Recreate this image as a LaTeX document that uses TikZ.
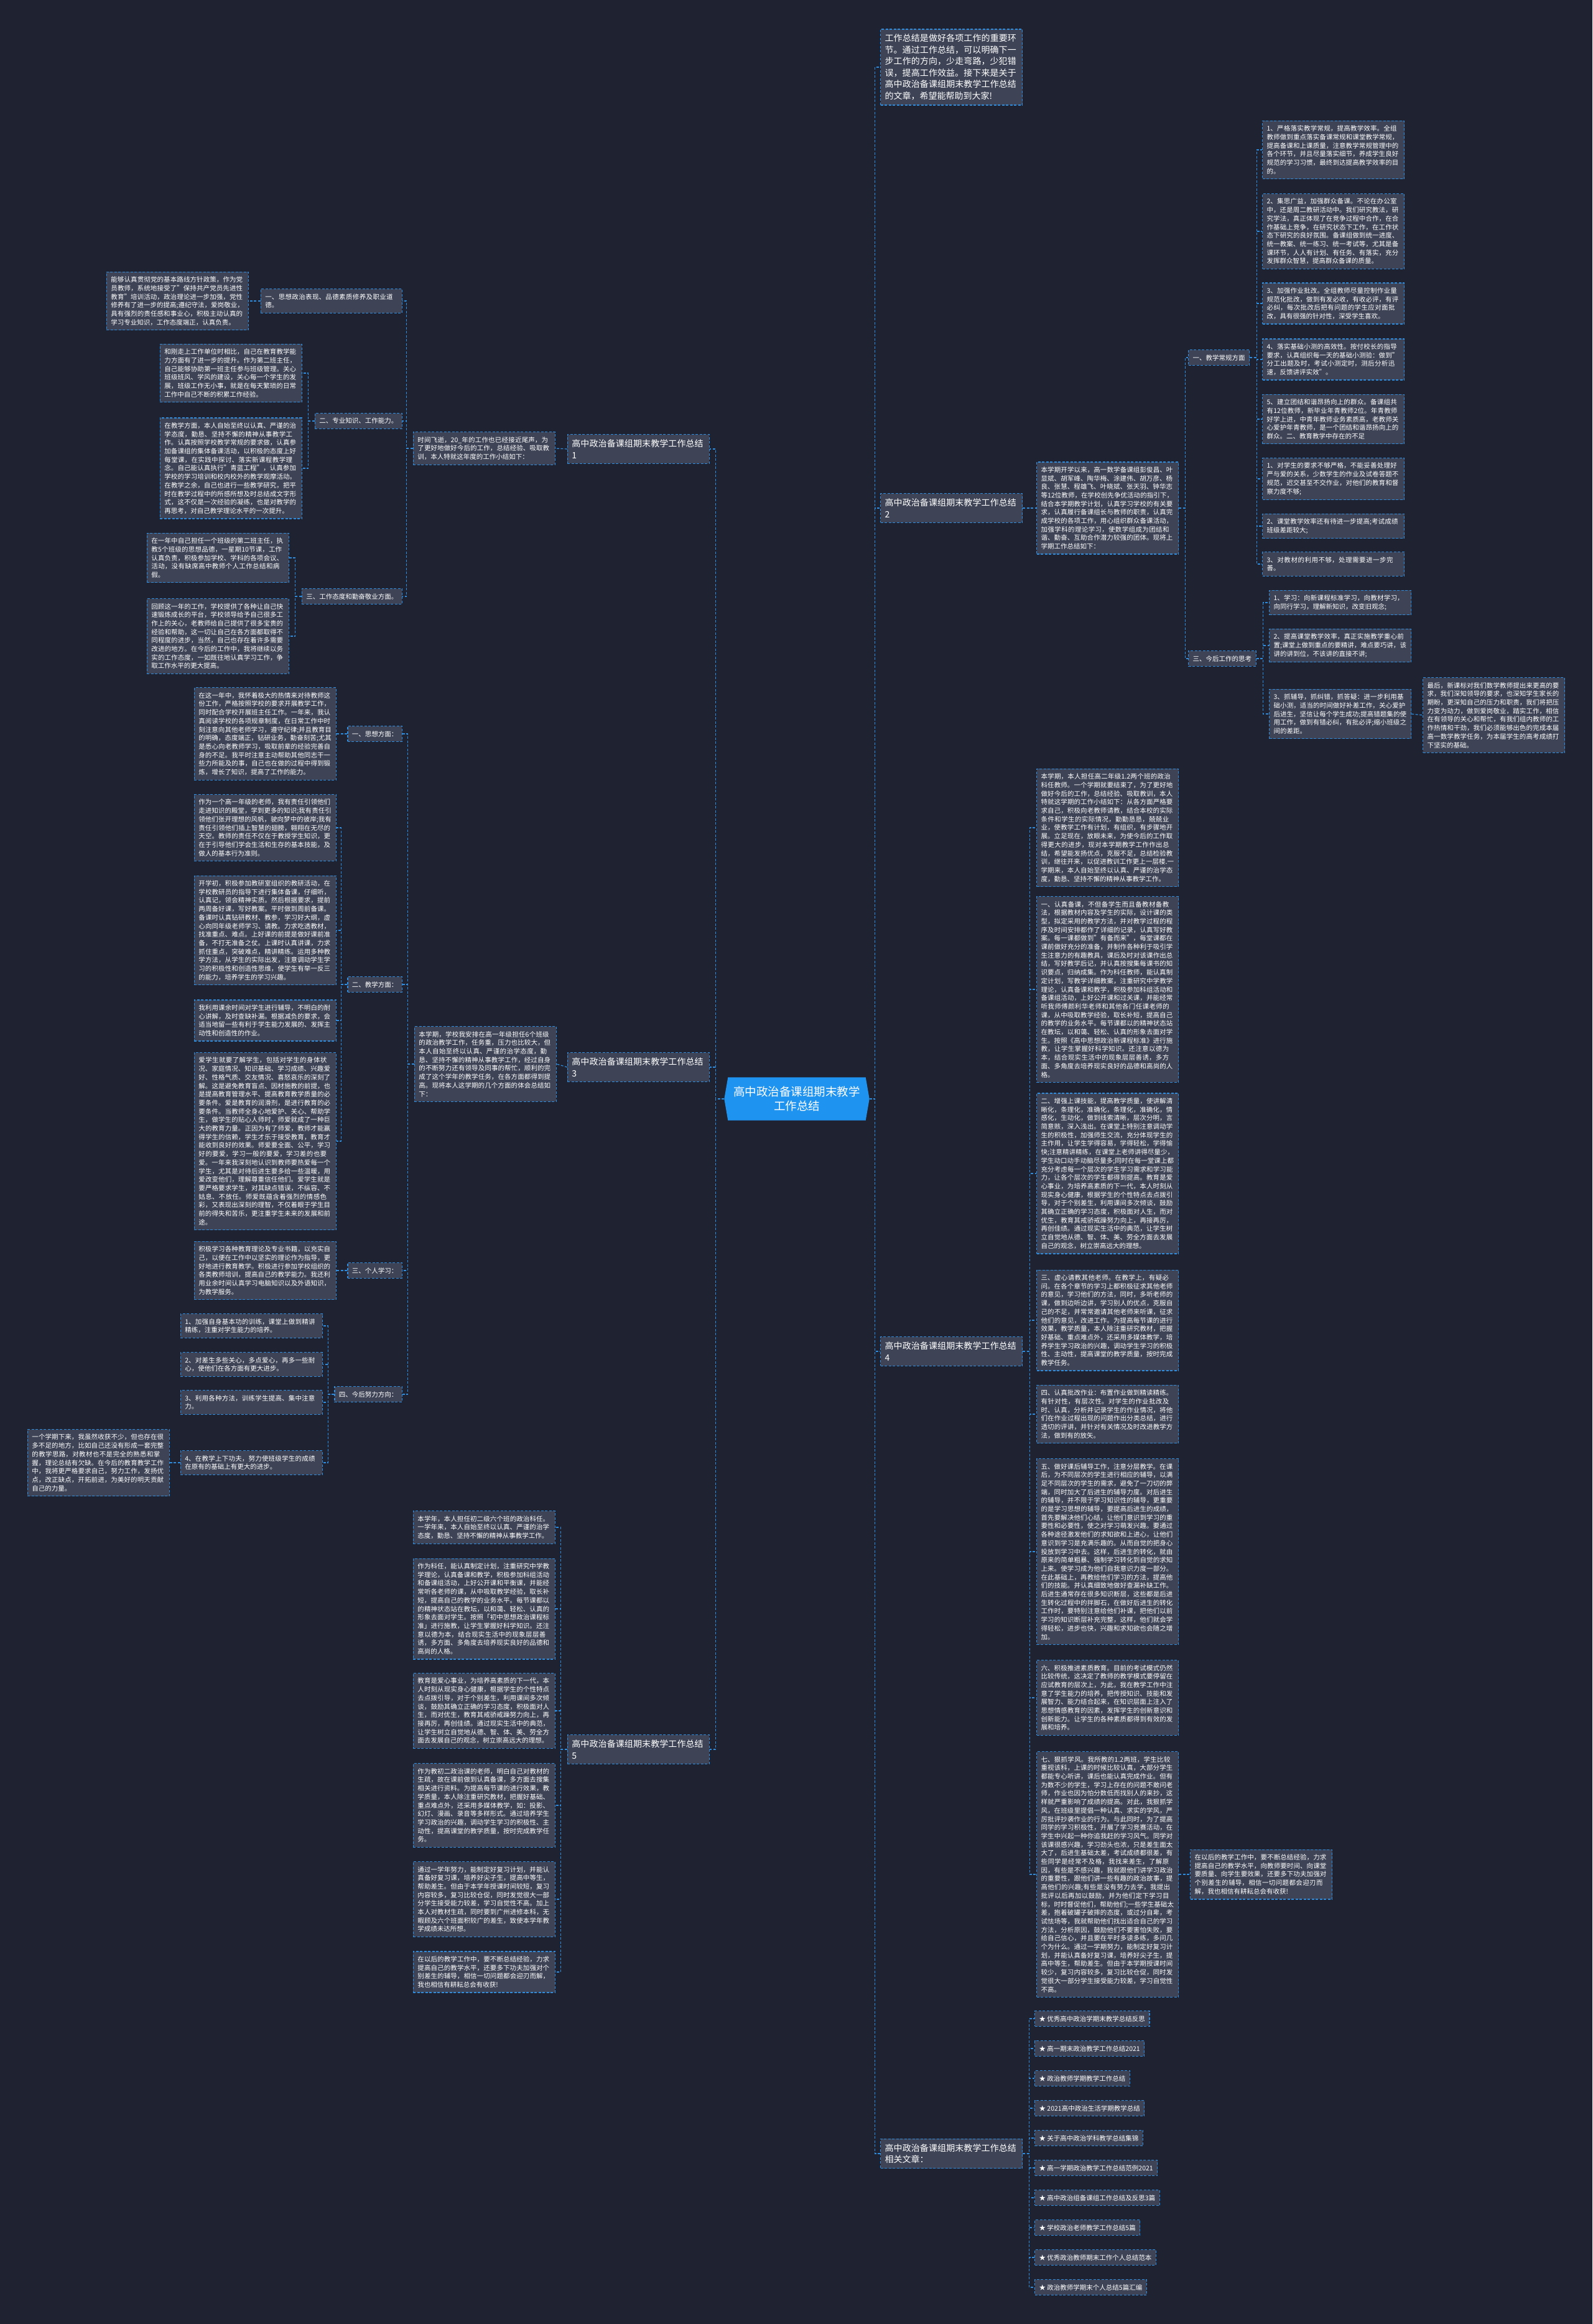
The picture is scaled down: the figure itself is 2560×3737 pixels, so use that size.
\documentclass[tikz,border=0pt]{standalone}
\usepackage{fontspec}
\setmainfont{Noto Sans CJK SC}
\usepackage{tikz}
\usetikzlibrary{backgrounds}
\XeTeXlinebreaklocale "zh"
\XeTeXlinebreakskip = 0pt plus 1pt
\definecolor{bgcol}{HTML}{1F2230}
\definecolor{boxgray}{HTML}{3E4456}
\definecolor{edgeblue}{HTML}{2F8BDB}
\definecolor{rootblue}{HTML}{1F93F0}

\begin{document}
\begin{tikzpicture}[x=1pt, y=-1pt,
  every node/.style={text=white, font=\fontsize{10.5}{13.7}\selectfont},
  card/.style={draw=edgeblue, dash pattern=on 4pt off 2.5pt, line width=1.2pt, fill=boxgray, align=left, inner xsep=7pt, inner ysep=7.5pt},
  leaf/.style={card, text width=214pt},
  lvl/.style={card, text width=214pt, inner ysep=8pt, font=\fontsize{14}{18.5}\selectfont},
  root/.style={align=center, minimum width=233pt, minimum height=69pt, inner sep=0pt, font=\fontsize{18.5}{23}\selectfont},
  conn/.style={draw=edgeblue, dash pattern=on 4pt off 2.5pt, line width=1.2pt}]
\node[root] (root) at (1281,1767) {高中政治备课组期末教学\\工作总结};

% right side
\node[lvl, anchor=west] (intro) at (1415,108) {工作总结是做好各项工作的重要环节。通过工作总结，可以明确下一步工作的方向，少走弯路，少犯错误，提高工作效益。接下来是关于高中政治备课组期末教学工作总结的文章，希望能帮助到大家!};
\node[lvl, anchor=west] (sumtwo) at (1415,817) {高中政治备课组期末教学工作总结2};
\node[lvl, anchor=west] (sumfour) at (1415,2173) {高中政治备课组期末教学工作总结4};
\node[lvl, anchor=west] (related) at (1415,3463) {高中政治备课组期末教学工作总结相关文章：};

\node[leaf, anchor=west] (twotext) at (1666,817) {本学期开学以来，高一数学备课组彭俊昌、叶显斌、胡军峰、陶华梅、涂建伟、胡万彦、杨良、张慧、程雄飞、叶晓斌、张天羽、钟华志等12位教师，在学校创先争优活动的指引下，结合本学期教学计划，认真学习学校的有关要求，认真履行备课组长与教师的职责，认真完成学校的各项工作，用心组织群众备课活动，加强学科的理论学习，使数学组成为团结和谐、勤奋、互助合作潜力较强的团体。现将上学期工作总结如下：};
\node[card, anchor=west] (routine) at (1910,575) {一、教学常规方面};
\node[leaf, anchor=west] (rta) at (2029,241) {1、严格落实教学常规，提高教学效率。全组教师做到重点落实备课常规和课堂教学常规，提高备课和上课质量，注意教学常规管理中的各个环节，并且尽量落实细节，养成学生良好规范的学习习惯，最终到达提高教学效率的目的。};
\node[leaf, anchor=west] (rtb) at (2029,372) {2、集思广益，加强群众备课。不论在办公室中，还是周二教研活动中。我们研究教法，研究学法，真正体现了在竞争过程中合作，在合作基础上竞争，在研究状态下工作，在工作状态下研究的良好氛围。备课组做到统一进度、统一教案、统一练习、统一考试等，尤其是备课环节，人人有计划、有任务、有落实，充分发挥群众智慧，提高群众备课的质量。};
\node[leaf, anchor=west] (rtc) at (2029,488) {3、加强作业批改。全组教师尽量控制作业量规范化批改，做到有发必收，有收必评，有评必纠，每次批改后把有问题的学生应对面批改，具有很强的针对性，深受学生喜欢。};
\node[leaf, anchor=west] (rtd) at (2029,578) {4、落实基础小测的高效性。按付校长的指导要求，认真组织每一天的基础小测验：做到"分工出题及时，考试小测定时，测后分析迅速，反馈讲评实效"。};
\node[leaf, anchor=west] (rte) at (2029,674) {5、建立团结和谐昂扬向上的群众。备课组共有12位教师，新毕业年青教师2位。年青教师好学上进，中青年教师业务素质高，老教师关心爱护年青教师，是一个团结和谐昂扬向上的群众。二、教育教学中存在的不足};
\node[leaf, anchor=west] (rtf) at (2029,770) {1、对学生的要求不够严格，不能妥善处理好严与爱的关系，少数学生的作业及试卷答题不规范，迟交甚至不交作业，对他们的教育和督察力度不够;};
\node[leaf, anchor=west] (rtg) at (2029,846) {2、课堂教学效率还有待进一步提高;考试成绩班级差距较大;};
\node[leaf, anchor=west] (rth) at (2029,907) {3、对教材的利用不够，处理需要进一步完善。};
\node[card, anchor=west] (future) at (1910,1059) {三、今后工作的思考};
\node[leaf, anchor=west] (fua) at (2040,969) {1、学习：向新课程标准学习，向教材学习，向同行学习，理解新知识，改变旧观念;};
\node[leaf, anchor=west] (fub) at (2040,1038) {2、提高课堂教学效率，真正实施教学重心前置;课堂上做到重点的要精讲，难点要巧讲，该讲的讲到位，不该讲的直接不讲;};
\node[leaf, anchor=west] (fuc) at (2040,1148) {3、抓辅导，抓纠错，抓答疑：进一步利用基础小测，适当的时间做好补差工作，关心爱护后进生，坚信让每个学生成功;提高错题集的使用工作，做到有错必纠，有批必评;缩小班级之间的差距。};
\node[leaf, anchor=west] (fud) at (2287,1150) {最后，新课标对我们数学教师提出来更高的要求，我们深知领导的要求，也深知学生家长的期盼，更深知自己的压力和职责，我们将把压力变为动力，做到爱岗敬业，踏实工作，相信在有领导的关心和帮忙，有我们组内教师的工作热情和干劲，我们必须能够出色的完成本届高一数学教学任务，为本届学生的高考成绩打下坚实的基础。};

\node[leaf, anchor=west] (fra) at (1666,1331) {本学期，本人担任高二年级1.2两个班的政治科任教师。一个学期就要结束了，为了更好地做好今后的工作，总结经验、吸取教训，本人特就这学期的工作小结如下：从各方面严格要求自己，积极向老教师请教，结合本校的实际条件和学生的实际情况，勤勤恳恳，兢兢业业，使教学工作有计划，有组织，有步骤地开展。立足现在，放眼未来，为使今后的工作取得更大的进步，现对本学期教学工作作出总结，希望能发扬优点，克服不足，总结检验教训，继往开来，以促进教训工作更上一层楼.一学期来，本人自始至终以认真、严谨的治学态度，勤恳、坚持不懈的精神从事教学工作。};
\node[leaf, anchor=west] (frb) at (1666,1591) {一、认真备课，不但备学生而且备教材备教法，根据教材内容及学生的实际，设计课的类型，拟定采用的教学方法，并对教学过程的程序及时间安排都作了详细的记录，认真写好教案。每一课都做到"有备而来"，每堂课都在课前做好充分的准备，并制作各种利于吸引学生注意力的有趣教具，课后及时对该课作出总结，写好教学后记，并认真按搜集每课书的知识要点，归纳成集。作为科任教师，能认真制定计划，写教学详细教案，注重研究中学教学理论，认真备课和教学，积极参加科组活动和备课组活动，上好公开课和过关课，并能经常听我师傅颜利华老师和其他各门任课老师的课，从中吸取教学经验，取长补短，提高自己的教学的业务水平。每节课都以的精神状态站在教坛，以和蔼、轻松、认真的形象去面对学生。按照《高中思想政治新课程标准》进行施教，让学生掌握好科学知识。还注意以德为本，结合现实生活中的现象层层善诱，多方面、多角度去培养现实良好的品德和高尚的人格。};
\node[leaf, anchor=west] (frc) at (1666,1887) {二、增强上课技能，提高教学质量，使讲解清晰化，条理化，准确化，条理化，准确化，情感化，生动化，做到线索清晰，层次分明，言简意赅，深入浅出。在课堂上特别注意调动学生的积极性，加强师生交流，充分体现学生的主作用，让学生学得容易，学得轻松，学得愉快;注意精讲精练，在课堂上老师讲得尽量少，学生动口动手动脑尽量多;同时在每一堂课上都充分考虑每一个层次的学生学习需求和学习能力，让各个层次的学生都得到提高。教育是爱心事业，为培养高素质的下一代，本人时刻从现实身心健康，根据学生的个性特点去点拨引导，对于个别差生，利用课间多次倾谈，鼓励其确立正确的学习态度，积极面对人生，而对优生，教育其戒骄戒躁努力向上，再接再厉，再创佳绩。通过现实生活中的典范，让学生树立自觉地从德、智、体、美、劳全方面去发展自己的观念，树立崇高远大的理想。};
\node[leaf, anchor=west] (frd) at (1666,2123) {三、虚心请教其他老师。在教学上，有疑必问。在各个章节的学习上都积极征求其他老师的意见，学习他们的方法，同时，多听老师的课，做到边听边讲，学习别人的优点，克服自己的不足，并常常邀请其他老师来听课，征求他们的意见，改进工作。为提高每节课的进行效果，教学质量，本人除注重研究教材，把握好基础、重点难点外，还采用多媒体教学，培养学生学习政治的兴趣，调动学生学习的积极性、主动性，提高课堂的教学质量，按时完成教学任务。};
\node[leaf, anchor=west] (fre) at (1666,2274) {四、认真批改作业：布置作业做到精读精练。有针对性，有层次性。对学生的作业批改及时、认真，分析并记录学生的作业情况，将他们在作业过程出现的问题作出分类总结，进行透切的评讲，并针对有关情况及时改进教学方法，做到有的放矢。};
\node[leaf, anchor=west] (frf) at (1666,2495) {五、做好课后辅导工作，注意分层教学。在课后，为不同层次的学生进行相应的辅导，以满足不同层次的学生的需求，避免了一刀切的弊端，同时加大了后进生的辅导力度。对后进生的辅导，并不限于学习知识性的辅导，更重要的是学习思想的辅导，要提高后进生的成绩，首先要解决他们心结，让他们意识到学习的重要性和必要性，使之对学习萌发兴趣。要通过各种途径激发他们的求知欲和上进心，让他们意识到学习是充满乐趣的。从而自觉的把身心投放到学习中去。这样，后进生的转化，就由原来的简单粗暴、强制学习转化到自觉的求知上来。使学习成为他们自我意识力度一部分。在此基础上，再教给他们学习的方法，提高他们的技能。并认真细致地做好查漏补缺工作。后进生通常存在很多知识断层，这些都是后进生转化过程中的拌脚石，在做好后进生的转化工作时，要特别注意给他们补课，把他们以前学习的知识断层补充完整，这样，他们就会学得轻松，进步也快，兴趣和求知欲也会随之增加。};
\node[leaf, anchor=west] (frg) at (1666,2730) {六、积极推进素质教育。目前的考试模式仍然比较传统，这决定了教师的教学模式要停留在应试教育的层次上，为此，我在教学工作中注意了学生能力的培养，把传授知识、技能和发展智力、能力结合起来，在知识层面上注入了思想情感教育的因素，发挥学生的创新意识和创新能力。让学生的各种素质都得到有效的发展和培养。};
\node[leaf, anchor=west] (frh) at (1666,3014) {七、狠抓学风。我所教的1.2两班，学生比较重视该科，上课的时候比较认真，大部分学生都能专心听讲，课后也能认真完成作业。但有为数不少的学生，学习上存在的问题不敢问老师，作业也因为怕分数低而找别人的来抄，这样就严重影响了成绩的提高。对此，我狠抓学风，在班级里提倡一种认真、求实的学风，严厉批评抄袭作业的行为。与此同时，为了提高同学的学习积极性，开展了学习竞赛活动，在学生中兴起一种你追我赶的学习风气。同学对该课很感兴趣，学习劲头也浓，只是差生面太大了，后进生基础太差，考试成绩都很差，有些同学是经常不及格，我找来差生，了解原因，有些是不感兴趣，我就跟他们讲学习政治的重要性，跟他们讲一些有趣的政治故事，提高他们的兴趣;有些是没有努力去学，我提出批评以后再加以鼓励，并为他们定下学习目标，时时督促他们，帮助他们;一些学生基础太差，抱着破罐子破摔的态度，或过分自卑，考试怯场等，我就帮助他们找出适合自己的学习方法，分析原因，鼓励他们不要害怕失败，要给自己信心，并且要在平时多读多练，多问几个为什么。通过一学期努力，能制定好复习计划，并能认真备好复习课，培养好尖子生，提高中等生，帮助差生。但由于本学期授课时间较少，复习内容较多，复习比较仓促，同时发觉很大一部分学生接受能力较差，学习自觉性不高。};
\node[leaf, anchor=west] (fri) at (1913,3014) {在以后的教学工作中，要不断总结经验，力求提高自己的教学水平，向教师要时间、向课堂要质量、向学生要效果，还要多下功夫加强对个别差生的辅导，相信一切问题都会迎刃而解，我也相信有耕耘总会有收获!};

\node[card, anchor=west] (rel1) at (1663,3246) {★ 优秀高中政治学期末教学总结反思};
\node[card, anchor=west] (rel2) at (1663,3294) {★ 高一期末政治教学工作总结2021};
\node[card, anchor=west] (rel3) at (1663,3342) {★ 政治教师学期教学工作总结};
\node[card, anchor=west] (rel4) at (1663,3390) {★ 2021高中政治生活学期教学总结};
\node[card, anchor=west] (rel5) at (1663,3438) {★ 关于高中政治学科教学总结集锦};
\node[card, anchor=west] (rel6) at (1663,3486) {★ 高一学期政治教学工作总结范例2021};
\node[card, anchor=west] (rel7) at (1663,3534) {★ 高中政治组备课组工作总结及反思3篇};
\node[card, anchor=west] (rel8) at (1663,3582) {★ 学校政治老师教学工作总结5篇};
\node[card, anchor=west] (rel9) at (1663,3630) {★ 优秀政治教师期末工作个人总结范本};
\node[card, anchor=west] (rel10) at (1663,3678) {★ 政治教师学期末个人总结5篇汇编};

% left side
\node[lvl, anchor=east] (sumone) at (1141,722) {高中政治备课组期末教学工作总结1};
\node[lvl, anchor=east] (sumthree) at (1141,1716) {高中政治备课组期末教学工作总结3};
\node[lvl, anchor=east] (sumfive) at (1141,2813) {高中政治备课组期末教学工作总结5};

\node[leaf, anchor=east] (onetext) at (893,721) {时间飞逝，20\_年的工作也已经接近尾声，为了更好地做好今后的工作，总结经验、吸取教训，本人特就这年度的工作小结如下：};
\node[leaf, anchor=east, text width=213pt] (moral) at (647,484) {一、思想政治表现、品德素质修养及职业道德。};
\node[leaf, anchor=east] (mora) at (400,484) {能够认真贯彻党的基本路线方针政策，作为党员教师，系统地接受了"保持共产党员先进性教育"培训活动，政治理论进一步加强，党性修养有了进一步的提高;遵纪守法，爱岗敬业，具有强烈的责任感和事业心，积极主动认真的学习专业知识，工作态度端正，认真负责。};
\node[card, anchor=east] (skill) at (647,677) {二、专业知识、工作能力。};
\node[leaf, anchor=east] (ska) at (486,600) {和刚走上工作单位时相比，自己在教育教学能力方面有了进一步的提升。作为第二班主任，自己能够协助第一班主任参与班级管理。关心班级班风、学风的建设，关心每一个学生的发展，班级工作无小事，就是在每天繁琐的日常工作中自己不断的积累工作经验。};
\node[leaf, anchor=east] (skb) at (486,753) {在教学方面，本人自始至终以认真、严谨的治学态度，勤恳、坚持不懈的精神从事教学工作。认真按照学校教学常规的要求做，认真参加备课组的集体备课活动，以积极的态度上好每堂课，在实践中探讨、落实新课程教学理念。自己能认真执行"青蓝工程"，认真参加学校的学习培训和校内校外的教学观摩活动。在教学之余，自己也进行一些教学研究，把平时在教学过程中的所感所想及时总结成文字形式，这不仅是一次经验的凝练，也是对教学的再思考，对自己教学理论水平的一次提升。};
\node[card, anchor=east] (attitude) at (647,959) {三、工作态度和勤奋敬业方面。};
\node[leaf, anchor=east] (ata) at (465,897) {在一年中自己担任一个班级的第二班主任，执教5个班级的思想品德，一星期10节课，工作认真负责，积极参加学校、学科的各项会议、活动，没有缺席高中教师个人工作总结和病假。};
\node[leaf, anchor=east] (atb) at (465,1023) {回顾这一年的工作，学校提供了各种让自己快速锻炼成长的平台，学校领导给予自己很多工作上的关心，老教师给自己提供了很多宝贵的经验和帮助，这一切让自己在各方面都取得不同程度的进步，当然，自己也存在着许多需要改进的地方。在今后的工作中，我将继续以务实的工作态度，一如既往地认真学习工作，争取工作水平的更大提高。};

\node[leaf, anchor=east] (threetext) at (895,1711) {本学期，学校我安排在高一年级担任6个班级的政治教学工作，任务重，压力也比较大，但本人自始至终以认真、严谨的治学态度，勤恳、坚持不懈的精神从事教学工作，经过自身的不断努力还有领导及同事的帮忙，顺利的完成了这个学年的教学任务，在各方面都得到提高。现将本人这学期的几个方面的体会总结如下：};
\node[card, anchor=east] (thought) at (647,1180) {一、思想方面：};
\node[leaf, anchor=east] (tha) at (541,1180) {在这一年中，我怀着极大的热情来对待教师这份工作，严格按照学校的要求开展教学工作，同时配合学校开展班主任工作。一年来，我认真阅读学校的各项规章制度，在日常工作中时刻注意向其他老师学习，遵守纪律;并且教育目的明确，态度端正，钻研业务，勤奋刻苦;尤其是悉心向老教师学习，吸取前辈的经验完善自身的不足。我平时注意主动帮助其他同志干一些力所能及的事，自己也在做的过程中得到锻炼，增长了知识，提高了工作的能力。};
\node[card, anchor=east] (teach) at (647,1583) {二、教学方面：};
\node[leaf, anchor=east] (tea) at (541,1331) {作为一个高一年级的老师，我有责任引领他们走进知识的殿堂，学到更多的知识;我有责任引领他们张开理想的风帆，驶向梦中的彼岸;我有责任引领他们插上智慧的翅膀，翱翔在无尽的天空。教师的责任不仅在于教授学生知识，更在于引导他们学会生活和生存的基本技能，及做人的基本行为准则。};
\node[leaf, anchor=east] (teb) at (541,1496) {开学初，积极参加教研室组织的教研活动，在学校教研员的指导下进行集体备课，仔细听，认真记，领会精神实质。然后根据要求，提前两周备好课，写好教案。平时做到周前备课。备课时认真钻研教材、教参，学习好大纲，虚心向同年级老师学习、请教。力求吃透教材，找准重点、难点。上好课的前提是做好课前准备，不打无准备之仗。上课时认真讲课，力求抓住重点，突破难点，精讲精练。运用多种教学方法，从学生的实际出发，注意调动学生学习的积极性和创造性思维，使学生有举一反三的能力，培养学生的学习兴趣。};
\node[leaf, anchor=east] (tec) at (541,1641) {我利用课余时间对学生进行辅导，不明白的耐心讲解，及时查缺补漏。根据减负的要求，会适当地留一些有利于学生能力发展的、发挥主动性和创造性的作业。};
\node[leaf, anchor=east] (ted) at (541,1835) {爱学生就要了解学生，包括对学生的身体状况、家庭情况、知识基础、学习成绩、兴趣爱好、性格气质、交友情况、喜怒哀乐的深刻了解。这是避免教育盲点、因材施教的前提，也是提高教育管理水平、提高教育教学质量的必要条件。爱是教育的润滑剂，是进行教育的必要条件。当教师全身心地爱护、关心、帮助学生，做学生的贴心人师时，师爱就成了一种巨大的教育力量。正因为有了师爱，教师才能赢得学生的信赖，学生才乐于接受教育，教育才能收到良好的效果。师爱要全面、公平，学习好的要爱，学习一般的要爱，学习差的也要爱。一年来我深刻地认识到教师要热爱每一个学生，尤其是对待后进生要多给一些温暖，用爱改变他们，理解尊重信任他们。爱学生就是要严格要求学生，对其缺点错误，不纵容、不姑息、不放任。师爱既蕴含着强烈的情感色彩，又表现出深刻的理智，不仅着眼于学生目前的得失和苦乐，更注重学生未来的发展和前途。};
\node[card, anchor=east] (study) at (647,2043) {三、个人学习：};
\node[leaf, anchor=east] (sta) at (541,2043) {积极学习各种教育理论及专业书籍，以充实自己，以便在工作中以坚实的理论作为指导，更好地进行教育教学。积极进行参加学校组织的各类教师培训，提高自己的教学能力。我还利用业余时间认真学习电脑知识以及外语知识，为教学服务。};
\node[card, anchor=east] (aim) at (647,2242) {四、今后努力方向：};
\node[leaf, anchor=east] (aia) at (519,2132) {1、加强自身基本功的训练，课堂上做到精讲精练，注重对学生能力的培养。};
\node[leaf, anchor=east] (aib) at (519,2194) {2、对差生多些关心，多点爱心，再多一些耐心，使他们在各方面有更大进步。};
\node[leaf, anchor=east] (aic) at (519,2255) {3、利用各种方法，训练学生提高、集中注意力。};
\node[leaf, anchor=east] (aid) at (519,2352) {4、在教学上下功夫，努力使班级学生的成绩在原有的基础上有更大的进步。};
\node[leaf, anchor=east] (aie) at (273,2352) {一个学期下来，我虽然收获不少，但也存在很多不足的地方，比如自己还没有形成一套完整的教学思路，对教材也不是完全的熟悉和掌握，理论总结有欠缺。在今后的教育教学工作中，我将更严格要求自己，努力工作，发扬优点，改正缺点，开拓前进，为美好的明天贡献自己的力量。};

\node[leaf, anchor=east] (fva) at (893,2456) {本学年，本人担任初二级六个班的政治科任。一学年来，本人自始至终以认真、严谨的治学态度，勤恳、坚持不懈的精神从事教学工作。};
\node[leaf, anchor=east] (fvb) at (893,2587) {作为科任，能认真制定计划，注重研究中学教学理论，认真备课和教学，积极参加科组活动和备课组活动，上好公开课和平衡课，并能经常听各老师的课，从中吸取教学经验，取长补短，提高自己的教学的业务水平。每节课都以的精神状态站在教坛，以和蔼、轻松、认真的形象去面对学生。按照「初中思想政治课程标准」进行施教，让学生掌握好科学知识。还注意以德为本，结合现实生活中的现象层层善诱，多方面、多角度去培养现实良好的品德和高尚的人格。};
\node[leaf, anchor=east] (fvc) at (893,2751) {教育是爱心事业，为培养高素质的下一代，本人时刻从现实身心健康，根据学生的个性特点去点拨引导，对于个别差生，利用课间多次倾谈，鼓励其确立正确的学习态度，积极面对人生，而对优生，教育其戒骄戒躁努力向上，再接再厉，再创佳绩。通过现实生活中的典范，让学生树立自觉地从德、智、体、美、劳全方面去发展自己的观念，树立崇高远大的理想。};
\node[leaf, anchor=east] (fvd) at (893,2903) {作为教初二政治课的老师，明白自己对教材的生疏，故在课前做到认真备课，多方面去搜集相关进行资料。为提高每节课的进行效果，教学质量，本人除注重研究教材，把握好基础、重点难点外，还采用多媒体教学，如：投影、幻灯、漫画、录音等多样形式。通过培养学生学习政治的兴趣，调动学生学习的积极性、主动性，提高课堂的教学质量，按时完成教学任务。};
\node[leaf, anchor=east] (fve) at (893,3054) {通过一学年努力，能制定好复习计划，并能认真备好复习课，培养好尖子生，提高中等生，帮助差生。但由于本学年授课时间较短，复习内容较多，复习比较仓促，同时发觉很大一部分学生接受能力较差，学习自觉性不高。加上本人对教材生疏，同时要到广州进修本科，无暇顾及六个班面积较广的差生，致使本学年教学成绩未达所想。};
\node[leaf, anchor=east] (fvf) at (893,3171) {在以后的教学工作中，要不断总结经验，力求提高自己的教学水平，还要多下功夫加强对个别差生的辅导，相信一切问题都会迎刃而解，我也相信有耕耘总会有收获!};

\draw[conn] (root.east) -- ++(9,0) |- (intro.west);
\draw[conn] (root.east) -- ++(9,0) |- (sumtwo.west);
\draw[conn] (root.east) -- ++(9,0) |- (sumfour.west);
\draw[conn] (root.east) -- ++(9,0) |- (related.west);
\draw[conn] (root.west) -- ++(-14,0) |- (sumone.east);
\draw[conn] (root.west) -- ++(-14,0) |- (sumthree.east);
\draw[conn] (root.west) -- ++(-14,0) |- (sumfive.east);

\draw[conn] (sumtwo.east) -- (twotext.west);
\draw[conn] (twotext.east) -- ++(10,0) |- (routine.west);
\draw[conn] (twotext.east) -- ++(10,0) |- (future.west);
\draw[conn] (routine.east) -- ++(11,0) |- (rta.west);
\draw[conn] (routine.east) -- ++(11,0) |- (rtb.west);
\draw[conn] (routine.east) -- ++(11,0) |- (rtc.west);
\draw[conn] (routine.east) -- ++(11,0) |- (rtd.west);
\draw[conn] (routine.east) -- ++(11,0) |- (rte.west);
\draw[conn] (routine.east) -- ++(11,0) |- (rtf.west);
\draw[conn] (routine.east) -- ++(11,0) |- (rtg.west);
\draw[conn] (routine.east) -- ++(11,0) |- (rth.west);
\draw[conn] (future.east) -- ++(11,0) |- (fua.west);
\draw[conn] (future.east) -- ++(11,0) |- (fub.west);
\draw[conn] (future.east) -- ++(11,0) |- (fuc.west);
\draw[conn] (fuc.east) -- (fud.west);

\draw[conn] (sumfour.east) -- ++(11,0) |- (fra.west);
\draw[conn] (sumfour.east) -- ++(11,0) |- (frb.west);
\draw[conn] (sumfour.east) -- ++(11,0) |- (frc.west);
\draw[conn] (sumfour.east) -- ++(11,0) |- (frd.west);
\draw[conn] (sumfour.east) -- ++(11,0) |- (fre.west);
\draw[conn] (sumfour.east) -- ++(11,0) |- (frf.west);
\draw[conn] (sumfour.east) -- ++(11,0) |- (frg.west);
\draw[conn] (sumfour.east) -- ++(11,0) |- (frh.west);
\draw[conn] (frh.east) -- (fri.west);

\draw[conn] (related.east) -- ++(10,0) |- (rel1.west);
\draw[conn] (related.east) -- ++(10,0) |- (rel2.west);
\draw[conn] (related.east) -- ++(10,0) |- (rel3.west);
\draw[conn] (related.east) -- ++(10,0) |- (rel4.west);
\draw[conn] (related.east) -- ++(10,0) |- (rel5.west);
\draw[conn] (related.east) -- ++(10,0) |- (rel6.west);
\draw[conn] (related.east) -- ++(10,0) |- (rel7.west);
\draw[conn] (related.east) -- ++(10,0) |- (rel8.west);
\draw[conn] (related.east) -- ++(10,0) |- (rel9.west);
\draw[conn] (related.east) -- ++(10,0) |- (rel10.west);

\draw[conn] (sumone.west) -- (onetext.east);
\draw[conn] (onetext.west) -- ++(-10,0) |- (moral.east);
\draw[conn] (onetext.west) -- ++(-10,0) |- (skill.east);
\draw[conn] (onetext.west) -- ++(-10,0) |- (attitude.east);
\draw[conn] (moral.west) -- (mora.east);
\draw[conn] (skill.west) -- ++(-10,0) |- (ska.east);
\draw[conn] (skill.west) -- ++(-10,0) |- (skb.east);
\draw[conn] (attitude.west) -- ++(-10,0) |- (ata.east);
\draw[conn] (attitude.west) -- ++(-10,0) |- (atb.east);

\draw[conn] (sumthree.west) -- (threetext.east);
\draw[conn] (threetext.west) -- ++(-10,0) |- (thought.east);
\draw[conn] (threetext.west) -- ++(-10,0) |- (teach.east);
\draw[conn] (threetext.west) -- ++(-10,0) |- (study.east);
\draw[conn] (threetext.west) -- ++(-10,0) |- (aim.east);
\draw[conn] (thought.west) -- (tha.east);
\draw[conn] (teach.west) -- ++(-10,0) |- (tea.east);
\draw[conn] (teach.west) -- ++(-10,0) |- (teb.east);
\draw[conn] (teach.west) -- ++(-10,0) |- (tec.east);
\draw[conn] (teach.west) -- ++(-10,0) |- (ted.east);
\draw[conn] (study.west) -- (sta.east);
\draw[conn] (aim.west) -- ++(-10,0) |- (aia.east);
\draw[conn] (aim.west) -- ++(-10,0) |- (aib.east);
\draw[conn] (aim.west) -- ++(-10,0) |- (aic.east);
\draw[conn] (aim.west) -- ++(-10,0) |- (aid.east);
\draw[conn] (aid.west) -- (aie.east);

\draw[conn] (sumfive.west) -- ++(-10,0) |- (fva.east);
\draw[conn] (sumfive.west) -- ++(-10,0) |- (fvb.east);
\draw[conn] (sumfive.west) -- ++(-10,0) |- (fvc.east);
\draw[conn] (sumfive.west) -- ++(-10,0) |- (fvd.east);
\draw[conn] (sumfive.west) -- ++(-10,0) |- (fve.east);
\draw[conn] (sumfive.west) -- ++(-10,0) |- (fvf.east);

\begin{scope}[on background layer]
\fill[bgcol] (0,0) rectangle (2560,3737);
\fill[rootblue] ([xshift=6pt]root.north west) -- ([xshift=-6pt]root.north east) -- (root.east) -- ([xshift=-6pt]root.south east) -- ([xshift=6pt]root.south west) -- (root.west) -- cycle;
\end{scope}
\end{tikzpicture}
\end{document}
